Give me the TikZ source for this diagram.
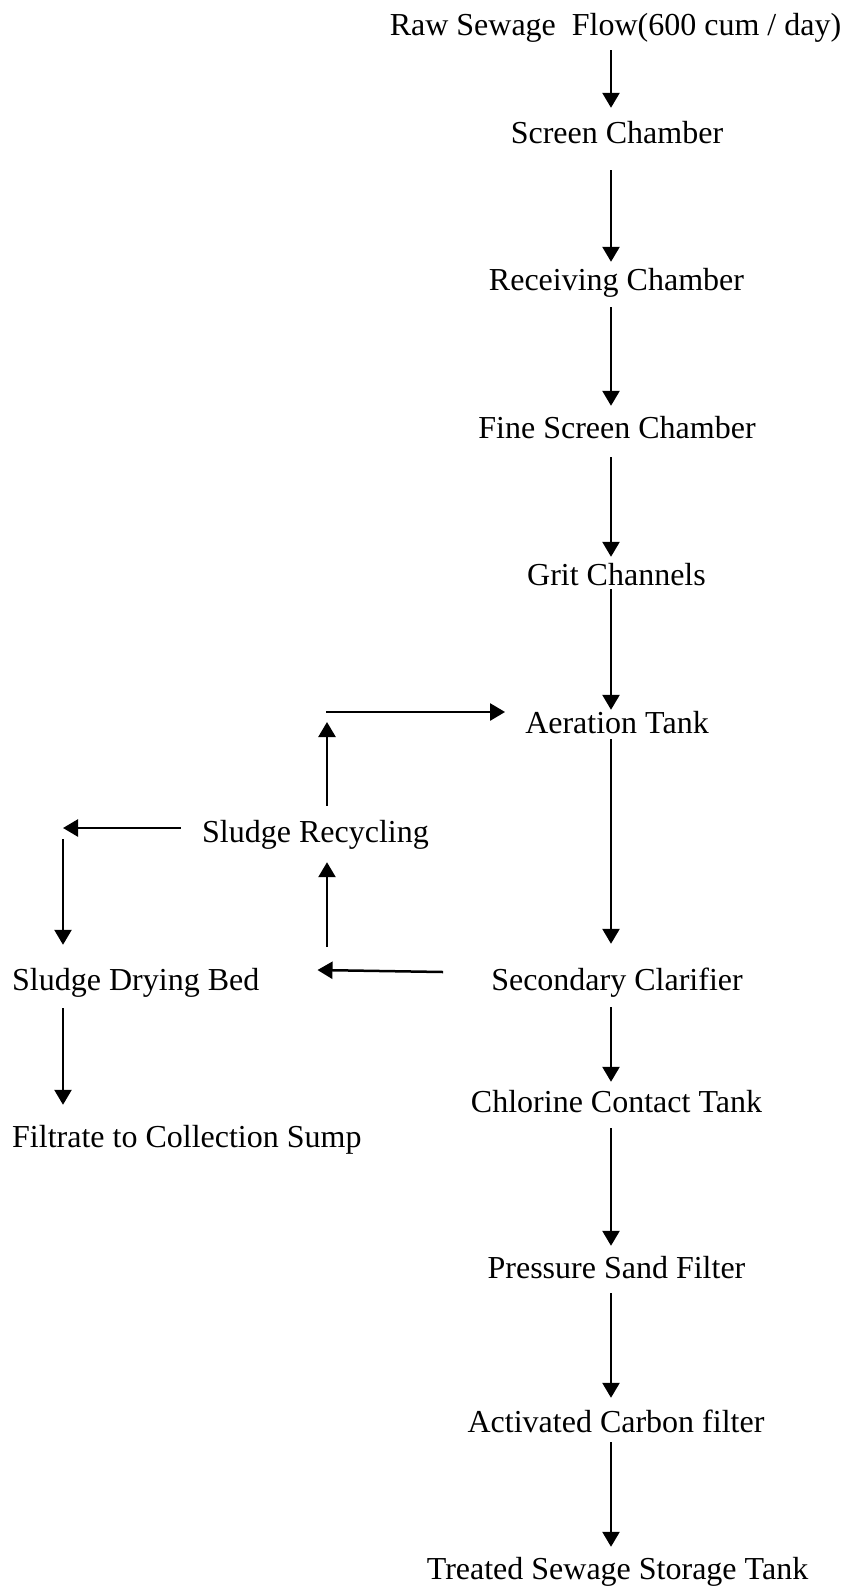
\documentclass[tikz,border=0pt]{standalone}
\usepackage{fontspec}
\setmainfont{Liberation Serif}
\usetikzlibrary{arrows.meta}
\tikzset{
  lbl/.style={inner sep=0pt, anchor=base, text height=22pt, text depth=7pt, font=\fontsize{32}{38}\selectfont},
  lblw/.style={lbl, anchor=base west},
  arr/.style={-{Triangle[length=15pt,width=17pt]}, line width=2.5pt}
}
\begin{document}
\begin{tikzpicture}[x=1pt,y=1pt]
\useasboundingbox (0,0) rectangle (844,-1588);
% right column
\node[lbl] (raw) at (615.5,-35) {Raw Sewage\ \ Flow(600 cum / day)};
\node[lbl] (screen) at (617,-143) {Screen Chamber};
\node[lbl] (recv) at (616.5,-290) {Receiving Chamber};
\node[lbl] (fine) at (617,-438) {Fine Screen Chamber};
\node[lbl] (grit) at (616.5,-585) {Grit Channels};
\node[lbl] (aer) at (617,-733) {Aeration Tank};
\node[lbl] (sec) at (617,-990) {Secondary Clarifier};
\node[lbl] (chl) at (616.5,-1112) {Chlorine Contact Tank};
\node[lbl] (psf) at (616.5,-1278) {Pressure Sand Filter};
\node[lbl] (acf) at (616,-1432) {Activated Carbon filter};
\node[lbl] (tst) at (617.5,-1579) {Treated Sewage Storage Tank};
% left part
\node[lbl] (rec) at (315.5,-842) {Sludge Recycling};
\node[lblw] (dry) at (12,-990) {Sludge Drying Bed};
\node[lblw] (fil) at (12,-1147) {Filtrate to Collection Sump};
\coordinate (rc) at (327,-712);
\coordinate (sc) at (327,-970);
\coordinate (lc) at (63,-828);
% main flow
\draw[arr] ([xshift=-4.5pt,yshift=-8pt]raw.south) -- ([xshift=-6pt,yshift=13pt]screen.north);
\draw[arr] ([xshift=-6pt,yshift=-20pt]screen.south) -- ([xshift=-5.5pt,yshift=6pt]recv.north);
\draw[arr] ([xshift=-5.5pt,yshift=-10pt]recv.south) -- ([xshift=-6pt,yshift=10pt]fine.north);
\draw[arr] ([xshift=-6pt,yshift=-12pt]fine.south) -- ([xshift=-5.5pt,yshift=6pt]grit.north);
\draw[arr] ([xshift=-5.5pt,yshift=3pt]grit.south) -- ([xshift=-6pt,yshift=1pt]aer.north);
\draw[arr] ([xshift=-6pt,yshift=1pt]aer.south) -- ([xshift=-6pt,yshift=24pt]sec.north);
\draw[arr] ([xshift=-6pt,yshift=-10pt]sec.south) -- ([xshift=-5.5pt,yshift=8pt]chl.north);
\draw[arr] ([xshift=-5.5pt,yshift=-9pt]chl.south) -- ([xshift=-5.5pt,yshift=10pt]psf.north);
\draw[arr] ([xshift=-5.5pt,yshift=-8pt]psf.south) -- ([xshift=-5pt,yshift=12pt]acf.north);
\draw[arr] ([xshift=-5pt,yshift=-3pt]acf.south) -- ([xshift=-6.5pt,yshift=10pt]tst.north);
% recycle loop
\draw[arr] ([xshift=-48pt,yshift=10.5pt]sec.west) -- ([xshift=58pt,yshift=12.5pt]dry.east);
\draw[arr] ([yshift=23pt]sc) -- ([xshift=11.5pt,yshift=-13pt]rec.south);
\draw[arr] ([xshift=11.5pt,yshift=14pt]rec.north) -- ([yshift=-10pt]rc);
\draw[arr] ([xshift=-1pt]rc) -- ([xshift=-20pt,yshift=13.5pt]aer.west);
\draw[arr] ([xshift=-21pt,yshift=6.5pt]rec.west) -- (lc);
\draw[arr] ([yshift=-11pt]lc) -- ([xshift=51pt,yshift=23pt]dry.north west);
\draw[arr] ([xshift=51pt,yshift=-11pt]dry.south west) -- ([xshift=51pt,yshift=20pt]fil.north west);
\end{tikzpicture}
\end{document}
